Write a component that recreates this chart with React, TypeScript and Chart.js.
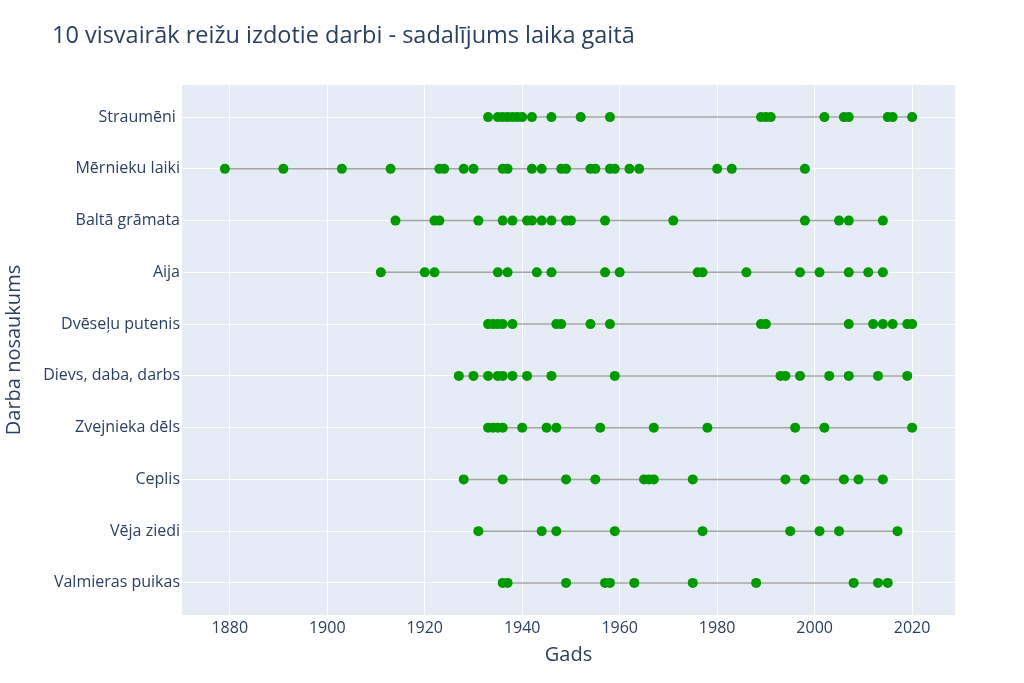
import React, { useEffect, useRef } from "react";
import { Chart, registerables } from "chart.js";

Chart.register(...registerables);

const chartTitle = "10 visvairāk reižu izdotie darbi - sadalījums laika gaitā";
const xAxisTitle = "Gads";
const yAxisTitle = "Darba nosaukums";

const works = [
  "Straumēni ",
  "Mērnieku laiki",
  "Baltā grāmata",
  "Aija",
  "Dvēseļu putenis",
  "Dievs, daba, darbs",
  "Zvejnieka dēls",
  "Ceplis",
  "Vēja ziedi",
  "Valmieras puikas",
];

const straumeni = [1933, 1935, 1936, 1937, 1938, 1939, 1940, 1942, 1946, 1952, 1958, 1989, 1990, 1991, 2002, 2006, 2007, 2015, 2016, 2020];
const mernieku = [1879, 1891, 1903, 1913, 1923, 1924, 1928, 1930, 1936, 1937, 1942, 1944, 1948, 1949, 1954, 1955, 1958, 1959, 1962, 1964, 1980, 1983, 1998];
const balta = [1914, 1922, 1923, 1931, 1936, 1938, 1941, 1942, 1944, 1946, 1949, 1950, 1957, 1971, 1998, 2005, 2007, 2014];
const aija = [1911, 1920, 1922, 1935, 1937, 1943, 1946, 1957, 1960, 1976, 1977, 1986, 1997, 2001, 2007, 2011, 2014];
const dveselu = [1933, 1934, 1935, 1936, 1938, 1947, 1948, 1954, 1958, 1989, 1990, 2007, 2012, 2014, 2016, 2019, 2020];
const dievs = [1927, 1930, 1933, 1935, 1936, 1938, 1941, 1946, 1959, 1993, 1994, 1997, 2003, 2007, 2013, 2019];
const zvejnieka = [1933, 1934, 1935, 1936, 1940, 1945, 1947, 1956, 1967, 1978, 1996, 2002, 2020];
const ceplis = [1928, 1936, 1949, 1955, 1965, 1966, 1967, 1975, 1994, 1998, 2006, 2009, 2014];
const vejaZiedi = [1931, 1944, 1947, 1959, 1977, 1995, 2001, 2005, 2017];
const valmieras = [1936, 1937, 1949, 1957, 1958, 1963, 1975, 1988, 2008, 2013, 2015];

const seriesYears = [straumeni, mernieku, balta, aija, dveselu, dievs, zvejnieka, ceplis, vejaZiedi, valmieras];
const yearTicks = [1880, 1900, 1920, 1940, 1960, 1980, 2000, 2020];

const TEXT = "#2a3f5f";
const FONT = "'Open Sans', 'Noto Sans', sans-serif";

const titlePlugin = {
  id: "plotTitle",
  afterDraw(chart: any) {
    const ctx = chart.ctx;
    ctx.save();
    ctx.font = `23.5px ${FONT}`;
    ctx.fillStyle = TEXT;
    ctx.textAlign = "left";
    ctx.textBaseline = "middle";
    ctx.fillText(chartTitle, 52, 36);
    ctx.restore();
  },
};

const bgPlugin = {
  id: "plotBg",
  beforeDraw(chart: any) {
    const { ctx, chartArea } = chart;
    ctx.save();
    ctx.fillStyle = "#ffffff";
    ctx.fillRect(0, 0, chart.width, chart.height);
    ctx.fillStyle = "#E5ECF6";
    ctx.fillRect(chartArea.left, chartArea.top, chartArea.right - chartArea.left, chartArea.bottom - chartArea.top);
    ctx.restore();
  },
};

export default function App() {
  const ref = useRef<HTMLCanvasElement | null>(null);

  useEffect(() => {
    if (!ref.current) return;
    const datasets = seriesYears.map((years, i) => ({
      label: works[i],
      data: years.map((y) => ({ x: y, y: i })),
      showLine: true,
      borderColor: "rgba(160,160,160,0.95)",
      borderWidth: 1.5,
      pointBackgroundColor: "#009a00",
      pointBorderColor: "#009a00",
      pointBorderWidth: 0,
      pointRadius: 5,
      pointHoverRadius: 5,
      fill: false,
    }));

    const chart = new Chart(ref.current, {
      type: "scatter",
      data: { datasets },
      plugins: [bgPlugin, titlePlugin],
      options: {
        animation: false,
        responsive: false,
        devicePixelRatio: 1,
        layout: { padding: { top: 85, right: 69, bottom: 0, left: 0 } },
        plugins: { legend: { display: false }, tooltip: { enabled: false }, title: { display: false } },
        scales: {
          x: {
            type: "linear",
            min: 1870.2,
            max: 2028.8,
            afterFit(scale: any) {
              scale.height = 68;
            },
            afterBuildTicks(scale: any) {
              scale.ticks = yearTicks.map((v) => ({ value: v }));
            },
            grid: { color: "#ffffff", lineWidth: 1, drawTicks: false },
            border: { display: false },
            ticks: {
              padding: 4,
              color: TEXT,
              font: { family: FONT, size: 16 },
              callback: (v: any) => String(v),
            },
            title: {
              display: true,
              text: xAxisTitle,
              color: TEXT,
              font: { family: FONT, size: 20 },
              padding: { top: 0, bottom: 16 },
            },
          },
          y: {
            type: "linear",
            reverse: true,
            min: -0.62,
            max: 9.62,
            afterFit(scale: any) {
              scale.width = 182;
            },
            afterBuildTicks(scale: any) {
              scale.ticks = works.map((_, i) => ({ value: i }));
            },
            grid: { color: "#ffffff", lineWidth: 1, drawTicks: false },
            border: { display: false },
            ticks: {
              padding: 2,
              color: TEXT,
              font: { family: FONT, size: 16 },
              callback: (v: any) => works[Math.round(Number(v))] ?? "",
            },
            title: {
              display: true,
              text: yAxisTitle,
              color: TEXT,
              font: { family: FONT, size: 20 },
              padding: { top: 2, bottom: 0 },
            },
          },
        },
      },
    } as any);
    return () => chart.destroy();
  }, []);

  return (
    <div style={{ position: "fixed", left: 0, top: 0, width: 1024, height: 683, background: "#fff" }}>
      <canvas ref={ref} width={1024} height={683} style={{ width: 1024, height: 683, display: "block" }} />
    </div>
  );
}
